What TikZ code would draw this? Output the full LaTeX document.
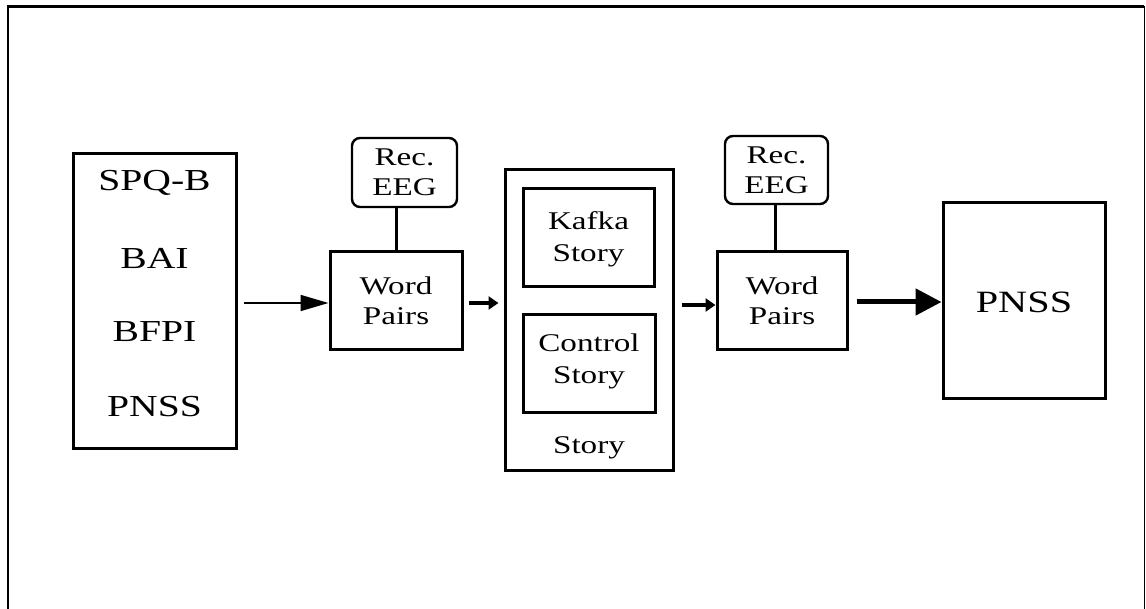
\documentclass[tikz,border=0pt]{standalone}
\usepackage{fontspec}
\setmainfont{Liberation Serif}
\usetikzlibrary{arrows.meta}
\newcommand{\sx}[1]{\scalebox{1.3}[1]{#1}}
\newcommand{\fsmall}{\fontsize{25.5}{30}\selectfont}
\newcommand{\fstory}{\fontsize{25.5}{32}\selectfont}
\newcommand{\fbig}{\fontsize{30.5}{36}\selectfont}
\tikzset{
  box/.style={draw, line width=3pt, inner sep=0pt, align=center},
  recbox/.style={draw, line width=2.4pt, rounded corners=8pt, inner sep=0pt, align=center},
  lbl/.style={inner sep=0pt, align=center},
  link/.style={line width=3pt},
  thinarrow/.style={line width=1.8pt, -{Triangle[length=28pt,width=16pt]}},
  midarrow/.style={line width=3.2pt, -{Triangle[length=10pt,width=13pt]}},
  bigarrow/.style={line width=5pt, -{Triangle[length=26pt,width=26pt]}},
}
\begin{document}
\begin{tikzpicture}[x=1pt,y=-1pt]
\useasboundingbox (0,0) rectangle (1146,609);
% outer frame (bottom open)
\draw[line width=2.2pt] (8,609) -- (8,6.5) -- (1144,6.5);
\draw[line width=1pt] (1144,6.5) -- (1144,609);

% left measurement box
\node[box, minimum width=163pt, minimum height=294pt] (meas) at (154.5,301) {};
\node[lbl, font=\fbig] (m1) at (154.5,183) {\sx{SPQ-B}};
\node[lbl, font=\fbig] (m2) at (154.5,258) {\sx{BAI}};
\node[lbl, font=\fbig] (m3) at (154.5,332) {\sx{BFPI}};
\node[lbl, font=\fbig] (m4) at (154.5,407) {\sx{PNSS}};

% first word pairs + recording
\node[recbox, minimum width=105pt, minimum height=69pt] (rec1) at (404.5,172.5) {};
\node[lbl, font=\fsmall] (rec1t) at (404.5,172.5) {\sx{Rec.}\\\sx{EEG}};
\node[box, minimum width=132pt, minimum height=98pt] (wp1) at (396,301) {};
\node[lbl, font=\fsmall] (wp1t) at (396,301) {\sx{Word}\\\sx{Pairs}};
\draw[link] (wp1.north) -- (wp1.north |- rec1.south);

% story block
\node[box, minimum width=168pt, minimum height=300pt] (story) at (589,320) {};
\node[box, minimum width=131pt, minimum height=98pt] (kafka) at (588.5,238) {};
\node[lbl, font=\fstory] (kafkat) at (588.5,239) {\sx{Kafka}\\\sx{Story}};
\node[box, minimum width=132pt, minimum height=98pt] (control) at (589,364) {};
\node[lbl, font=\fstory] (controlt) at (589,361) {\sx{Control}\\\sx{Story}};
\node[lbl, font=\fsmall] (storyt) at (589,448) {\sx{Story}};

% second word pairs + recording
\node[recbox, minimum width=103pt, minimum height=68pt] (rec2) at (776.5,170) {};
\node[lbl, font=\fsmall] (rec2t) at (776.5,170) {\sx{Rec.}\\\sx{EEG}};
\node[box, minimum width=130pt, minimum height=98pt] (wp2) at (782,301) {};
\node[lbl, font=\fsmall] (wp2t) at (782,301) {\sx{Word}\\\sx{Pairs}};
\draw[link] (rec2.south -| 775,0) -- (775,0 |- wp2.north);

% final PNSS
\node[box, minimum width=162pt, minimum height=196pt] (pnss) at (1024,301) {};
\node[lbl, font=\fontsize{31}{36}\selectfont] (pnsst) at (1024,302) {\sx{PNSS}};

% arrows
\draw[thinarrow] (meas.east |- 0,303) ++(6pt,0) -- (wp1.west |- 0,303);
\draw[midarrow] (wp1.east |- 0,303) ++(5pt,0) -- ++(30pt,0);
\draw[midarrow] (story.east |- 0,305) ++(7pt,0) -- (wp2.west |- 0,305);
\draw[bigarrow] (wp2.east |- 0,302) ++(8pt,0) -- (pnss.west |- 0,302);
\end{tikzpicture}
\end{document}
